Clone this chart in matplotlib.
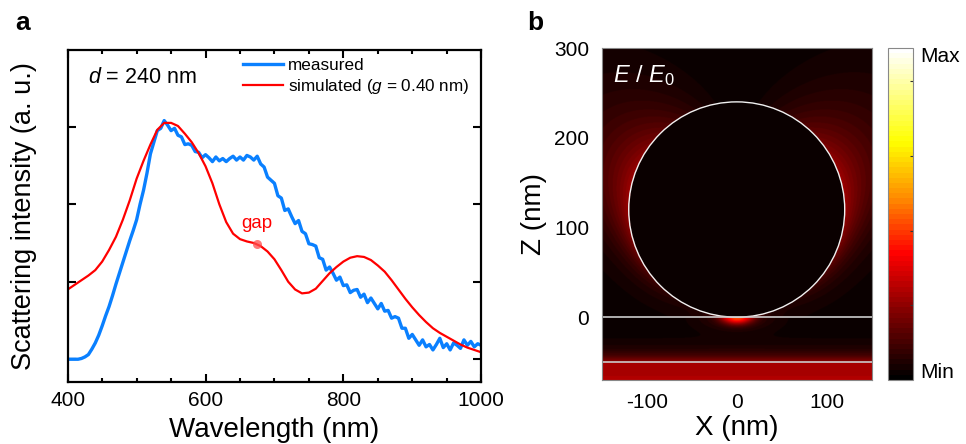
import numpy as np
import matplotlib
matplotlib.use('Agg')
import matplotlib.pyplot as plt
from matplotlib.colors import LinearSegmentedColormap
from matplotlib.patches import Circle

plt.rcParams['font.family'] = ['Liberation Sans', 'DejaVu Sans']
plt.rcParams['mathtext.fontset'] = 'custom'
plt.rcParams['mathtext.rm'] = 'Liberation Sans'
plt.rcParams['mathtext.it'] = 'Liberation Sans:italic'
plt.rcParams['axes.unicode_minus'] = False

# ---- panel a: spectra ----
wl_meas = np.arange(400, 1001, 5)
meas = [0.00, 0.00, 0.00, 0.00, 0.01, 0.03, 0.06, 0.13, 0.21, 0.31,
        0.43, 0.56, 0.68, 0.82, 0.97, 1.11, 1.25, 1.39, 1.53, 1.66,
        1.80, 2.00, 2.18, 2.40, 2.65, 2.80, 2.95, 2.98, 3.08, 3.02,
        2.95, 2.98, 2.89, 2.87, 2.77, 2.78, 2.76, 2.68, 2.67, 2.60,
        2.64, 2.60, 2.55, 2.61, 2.56, 2.59, 2.55, 2.59, 2.62, 2.57,
        2.61, 2.57, 2.63, 2.61, 2.57, 2.62, 2.52, 2.48, 2.35, 2.31,
        2.27, 2.11, 2.08, 1.92, 1.94, 1.84, 1.75, 1.79, 1.65, 1.62,
        1.49, 1.48, 1.46, 1.31, 1.29, 1.15, 1.19, 1.11, 1.02, 1.06,
        0.95, 0.96, 0.86, 0.89, 0.90, 0.80, 0.84, 0.73, 0.79, 0.72,
        0.65, 0.72, 0.62, 0.63, 0.53, 0.55, 0.53, 0.40, 0.40, 0.27,
        0.32, 0.25, 0.18, 0.25, 0.16, 0.19, 0.12, 0.19, 0.27, 0.15,
        0.20, 0.12, 0.21, 0.18, 0.14, 0.25, 0.18, 0.23, 0.16, 0.20,
        0.18]
wl_sim = np.arange(400, 1001, 10)
sim = [0.90, 0.96, 1.02, 1.08, 1.15, 1.26, 1.41, 1.58, 1.80, 2.05,
       2.33, 2.56, 2.77, 2.96, 3.05, 3.05, 3.01, 2.91, 2.80, 2.66,
       2.49, 2.27, 2.00, 1.77, 1.62, 1.55, 1.52, 1.50, 1.46, 1.39,
       1.29, 1.15, 1.00, 0.90, 0.85, 0.86, 0.91, 1.01, 1.11, 1.19,
       1.26, 1.31, 1.33, 1.32, 1.28, 1.21, 1.13, 1.02, 0.90, 0.78,
       0.67, 0.57, 0.48, 0.40, 0.34, 0.29, 0.24, 0.19, 0.15, 0.12,
       0.09]
gap_wl = 675
gap_val = 1.49

# ---- panel b: near field ----
diameter = 240
spacer_z = -50
x_lim = (-150, 150)
z_lim = (-70, 300)
bg_level = 0.02
glow_level = 0.22
gap_level = 0.36
substrate_level = 0.25
cbar_ticks = [0.225, 0.45, 0.675, 0.9]

blue = '#0a80ff'
red = '#ff0000'

fig = plt.figure(figsize=(9.66, 4.44), dpi=100)

ax = fig.add_axes([0.0701, 0.1403, 0.428, 0.747])
ax.plot(wl_meas, meas, color=blue, lw=2.4, label='measured')
ax.plot(wl_sim, sim, color=red, lw=1.6, label='simulated ($g$ = 0.40 nm)')
ax.plot([gap_wl], [gap_val], 'o', ms=6.5, color='#ff4d4d', alpha=0.75, mec='none')
ax.text(gap_wl, 1.75, 'gap', color=red, fontsize=13.4, ha='center', va='center')
ax.text(0.049, 0.918, '$d$ = 240 nm', transform=ax.transAxes, fontsize=15.5, va='center')
ax.set_xlim(400, 1000)
ax.set_ylim(-0.29, 3.99)
ax.set_xticks([400, 600, 800, 1000])
ax.set_xticks(np.arange(450, 1000, 50), minor=True)
ax.set_yticks([0, 1, 2, 3])
ax.set_yticklabels([])
ax.tick_params(which='both', direction='in', top=True, right=True, width=1.5,
               labelsize=15, pad=6.5)
ax.tick_params(which='major', length=5.5)
ax.tick_params(which='minor', length=3)
for s in ax.spines.values():
    s.set_linewidth(1.6)
ax.set_xlabel('Wavelength (nm)', fontsize=20)
ax.xaxis.set_label_coords(0.5, -0.105)
ax.set_ylabel('Scattering intensity (a. u.)', fontsize=19.5)
ax.yaxis.set_label_coords(-0.075, 0.5)
ax.legend(loc='upper left', bbox_to_anchor=(0.425, 0.975), frameon=False,
          fontsize=12.3, handlelength=2.3, handletextpad=0.3, labelspacing=0.2,
          borderpad=0, borderaxespad=0)

# field map
R = diameter / 2
x = np.linspace(x_lim[0], x_lim[1], 601)
z = np.linspace(z_lim[0], z_lim[1], 741)
X, Z = np.meshgrid(x, z)
r = np.hypot(X, Z - R)
th = np.arctan2(np.abs(X), Z - R)
w = np.sin(th)**2 * (1 + 0.4 * np.cos(th))
L = 14 + 44 * np.exp(-((th - np.radians(52)) / np.radians(38))**2)
field = np.full(X.shape, bg_level)
out = (r >= R) & (Z >= 0)
field[out] += (glow_level * np.exp(-(r - R) / L) * w)[out]
mid = (Z < 0) & (Z >= spacer_z)
field[mid] += (substrate_level * 0.85 * np.exp(-(Z - spacer_z) / 9))[mid]
sub = Z < spacer_z
field[sub] = (substrate_level + 0.02 * (spacer_z - Z) / 20)[sub]
hot = gap_level * np.exp(-(X / 15)**2 - ((Z + 1) / 7)**2)
hot += 0.1 * np.exp(-((np.abs(X) - 14) / 9)**2 - ((Z - 3) / 6)**2)
hot += 0.08 * np.exp(-(X / 40)**2 - (Z / 14)**2)
field[r >= R] += hot[r >= R]

cmap = LinearSegmentedColormap.from_list(
    'field', [(0, '#000000'), (0.2, '#800000'), (0.38, '#ff0000'),
              (0.55, '#ff8c00'), (0.72, '#ffff00'), (1.0, '#ffffff')], N=64)

bx = fig.add_axes([0.6229, 0.1441, 0.2795, 0.7477])
im = bx.imshow(field, extent=(x_lim[0], x_lim[1], z_lim[0], z_lim[1]), origin='lower',
               cmap=cmap, vmin=0, vmax=1, aspect='auto', interpolation='bilinear')
bx.add_patch(Circle((0, R), R, fill=False, ec='#f0f0f0', lw=1.0))
bx.axhline(0, color='#cccccc', lw=1.2)
bx.axhline(spacer_z, color='#cccccc', lw=1.2)
bx.set_xlim(*x_lim)
bx.set_ylim(*z_lim)
bx.set_xticks([-100, 0, 100])
bx.set_yticks([0, 100, 200, 300])
bx.tick_params(length=0, labelsize=15, pad=9)
for s in bx.spines.values():
    s.set_linewidth(0.8)
    s.set_color('#888888')
bx.set_xlabel('X (nm)', fontsize=20)
bx.xaxis.set_label_coords(0.5, -0.105)
bx.set_ylabel('Z (nm)', fontsize=20)
bx.yaxis.set_label_coords(-0.203, 0.5)
bx.text(0.042, 0.898, '$E$ / $E_\\mathregular{0}$', transform=bx.transAxes,
        color='white', fontsize=17)

cax = fig.add_axes([0.9193, 0.1441, 0.0259, 0.7477])
cb = fig.colorbar(im, cax=cax)
cb.set_ticks(cbar_ticks)
cax.set_yticklabels([])
cax.tick_params(direction='in', length=2.5, width=0.8, color='#333333')
cb.outline.set_edgecolor('#888888')
cb.outline.set_linewidth(0.8)
cax.text(1.3, 0.974, 'Max', transform=cax.transAxes, fontsize=15, va='center')
cax.text(1.3, 0.023, 'Min', transform=cax.transAxes, fontsize=15, va='center')

fig.text(0.016, 0.932, 'a', fontsize=19, fontweight='bold')
fig.text(0.546, 0.932, 'b', fontsize=19, fontweight='bold')

fig.savefig('out.png', dpi=100)
